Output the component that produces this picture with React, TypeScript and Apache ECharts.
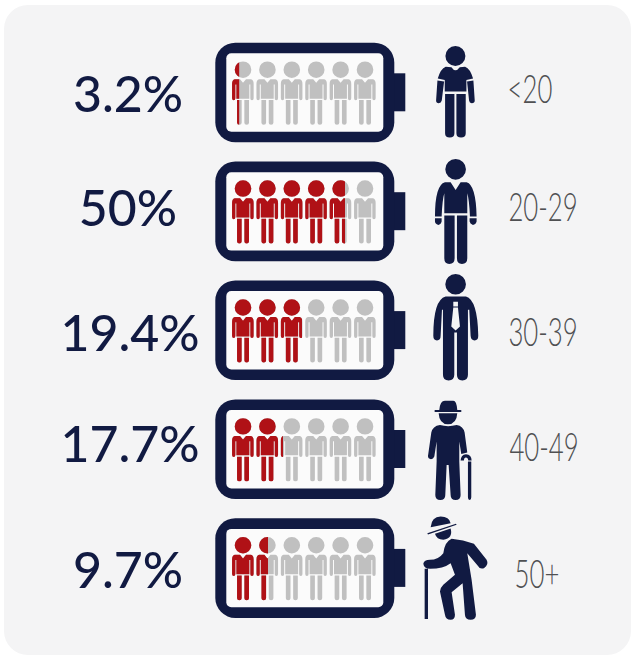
import React, { useEffect, useRef } from "react";
import * as echarts from "echarts";

// Age bands, share of each band, and how many of the six figures are filled in red.
const ageBands = ["<20", "20-29", "30-39", "40-49", "50+"];
const shareLabels = ["3.2%", "50%", "19.4%", "17.7%", "9.7%"];
const figuresFilled = [0.3, 4.72, 2.92, 2.13, 1.5];
const figuresPerBattery = [6, 6, 6, 6, 6];

const NAVY = "#111a42";
const RED = "#b01116";
const GREY = "#c0c0c0";
const PANEL = "#f4f4f5";
const AGE_TEXT = "#4f5052";

const figurePath =
  "path://M33 0A25 25 0 1 1 33 50A25 25 0 1 1 33 0Z" +
  "M8 54L24 54L33 65L42 54L57 54Q65 56 65 68L65 112Q65 118 60 118Q55 118 55 112L55 70L52 70L52 113L13 113L13 70L10 70L10 112Q10 118 5 118Q0 118 0 112L0 68Q0 56 8 54Z" +
  "M15 117L29 117L29 186Q29 192 22 192Q15 192 15 186Z" +
  "M37 117L51 117L51 186Q51 192 44 192Q37 192 37 186Z";

// Silhouettes shown beside each battery, drawn at 3x and scaled down.
const youthIcon =
  "M767 48A30 30 0 1 1 767 108A30 30 0 1 1 767 48Z" +
  "M738 110L755 112Q767 130 780 112L796 110Q812 116 820 146L800 150L800 185L735 185L735 150L714 146Q722 116 738 110Z" +
  "M713 152L733 155L726 212Q724 220 717 220Q709 220 709 212Z" +
  "M802 155L821 152L825 212Q825 220 816 220Q809 220 808 212Z" +
  "M736 192L764 192L764 310Q764 323 750 323Q736 323 736 310Z" +
  "M770 192L798 192L798 310Q798 323 784 323Q770 323 770 310Z";
const sweaterIcon =
  "M137 27A31 31 0 1 1 137 89A31 31 0 1 1 137 27Z" +
  "M105 97L122 97L137 120L152 97L170 97Q198 105 200 200L180 200Q178 150 172 130L172 190L103 190L103 130Q97 150 95 200L75 200Q75 105 105 97Z" +
  "M75 205L95 205L95 215Q92 225 85 225Q75 222 75 215Z" +
  "M179 205L200 205L200 215Q197 225 189 225Q180 222 179 215Z" +
  "M103 197L134 197L134 325Q134 342 118 342Q103 342 103 325Z" +
  "M141 197L172 197L172 325Q172 342 156 342Q141 342 141 325Z";
const suitIcon =
  "M137 372A31 31 0 1 1 137 434A31 31 0 1 1 137 372Z" +
  "M107 440L168 440Q203 450 205 558Q205 572 194 572Q183 572 182 558L178 480L174 480L174 675Q174 692 157 692Q141 692 141 675L141 548L133 548L133 675Q133 692 116 692Q99 692 99 675L99 480L96 480L92 558Q92 572 81 572Q70 572 70 558Q70 450 107 440Z" +
  "M130 456L130 470L144 470L144 456Z" +
  "M130 473L124 530L137 542L150 530L144 473Z";
const caneIcon =
  "M88 60Q90 32 105 32L130 32Q140 32 142 60Z" +
  "M76 60L152 60Q158 63 152 66L76 66Q70 63 76 60Z" +
  "M86 70L142 70Q140 103 114 103Q88 103 86 70Z" +
  "M90 105Q114 112 140 105Q160 108 164 128L172 188L154 192L148 155L148 215L152 315Q152 330 137 330Q122 330 122 315L116 225L110 225L106 315Q106 330 91 330Q76 330 76 315L80 215L80 155L73 200Q70 208 63 208Q54 206 54 198L64 128Q68 108 90 105Z" +
  "M174 215L184 215L184 322Q184 330 179 330Q174 330 174 322Z" +
  "M152 212Q153 194 168 193Q185 194 185 212L175 212Q174 203 168 203Q162 203 162 212Z";
const stoopedIcon =
  "M62 412Q65 380 92 380Q118 380 122 400Z" +
  "M52 430L138 402L140 405L54 434Z" +
  "M75 432L122 416Q130 445 100 450Q80 450 75 432Z" +
  "M125 447Q160 450 192 462L230 510Q238 525 222 535Q210 540 203 527L172 490L185 570L198 675Q198 690 182 690Q166 690 165 675L158 580L125 607L135 675Q135 690 122 690Q107 690 105 675L90 605Q90 595 100 585L135 555L122 520Q100 537 60 537Q42 537 40 522Q42 510 60 510Q85 510 100 490Q105 455 125 447Z" +
  "M44 537L54 537L54 688L44 688Z";

const iconShapes = [
  { name: "youth", d: youthIcon, x: 200, y: 30 },
  { name: "sweater", d: sweaterIcon, x: 410, y: 150 },
  { name: "suit", d: suitIcon, x: 410, y: 150 },
  { name: "cane", d: caneIcon, x: 410, y: 390 },
  { name: "stooped", d: stoopedIcon, x: 410, y: 390 },
];

iconShapes.forEach((s) =>
  echarts.graphic.registerShape(s.name, echarts.graphic.extendPath(s.d, {}) as any)
);

// Label anchors per row: share centre, age-band centre.
const shareCentreX = [128, 128, 130, 130, 128];
const shareCentreY = [93, 207, 332, 443, 569];
const ageCentreX = [530, 543, 543, 544, 537];
const ageCentreY = [88, 206, 331, 446, 573];

function batteryGraphics(row: number) {
  const left = 215.3;
  const top = 42.7 + row * 118.9;
  return [
    { type: "rect", z: 1, shape: { x: left + 178, y: top + 30.6, width: 12, height: 38 }, style: { fill: NAVY } },
    { type: "rect", z: 1, shape: { x: left, y: top, width: 179, height: 99.6, r: 20 }, style: { fill: NAVY } },
    { type: "rect", z: 1, shape: { x: left + 11, y: top + 10.6, width: 157, height: 78.4, r: 5 }, style: { fill: "#fbfbfb" } },
  ];
}

export default function App() {
  const ref = useRef<HTMLDivElement>(null);

  useEffect(() => {
    const chart = echarts.init(ref.current!, undefined, { renderer: "svg" });
    chart.setOption({
      animation: false,
      grid: { left: 232, top: 33.6, width: 143.7, height: 594.5 },
      xAxis: { type: "value", min: 0, max: 6, show: false },
      yAxis: { type: "category", data: ageBands, inverse: true, show: false },
      graphic: {
        elements: [
          { type: "rect", z: 0, shape: { x: 4, y: 5, width: 627, height: 650, r: 24 }, style: { fill: PANEL } },
          ...ageBands.flatMap((_, i) => batteryGraphics(i)),
          ...iconShapes.map((s) => ({
            type: s.name,
            z: 1,
            x: s.x,
            y: s.y,
            scaleX: 1 / 3,
            scaleY: 1 / 3,
            style: { fill: NAVY },
          })),
          ...shareLabels.map((text, i) => ({
            type: "text",
            z: 2,
            x: shareCentreX[i],
            y: shareCentreY[i],
            style: {
              text,
              fill: NAVY,
              font: '500 50px Lato, "Noto Sans", sans-serif',
              textAlign: "center",
              textVerticalAlign: "middle",
            },
          })),
          ...ageBands.map((text, i) => ({
            type: "text",
            z: 2,
            x: ageCentreX[i],
            y: ageCentreY[i],
            scaleX: 0.66,
            style: {
              text,
              fill: AGE_TEXT,
              font: '300 39px Lato, "Noto Sans", sans-serif',
              textAlign: "center",
              textVerticalAlign: "middle",
            },
          })),
        ],
      },
      series: [
        {
          type: "pictorialBar",
          name: "All figures",
          data: figuresPerBattery,
          symbol: figurePath,
          symbolSize: [21.7, 63],
          symbolRepeat: 6,
          symbolBoundingData: 6,
          itemStyle: { color: GREY },
          z: 3,
          silent: true,
        },
        {
          type: "pictorialBar",
          name: "Share",
          data: figuresFilled,
          symbol: figurePath,
          symbolSize: [21.7, 63],
          symbolRepeat: 6,
          symbolBoundingData: 6,
          symbolClip: true,
          itemStyle: { color: RED },
          z: 4,
          silent: true,
        },
      ],
    });
    return () => chart.dispose();
  }, []);

  return (
    <div
      ref={ref}
      style={{ position: "absolute", left: 0, top: 0, width: 632, height: 655 }}
    />
  );
}
